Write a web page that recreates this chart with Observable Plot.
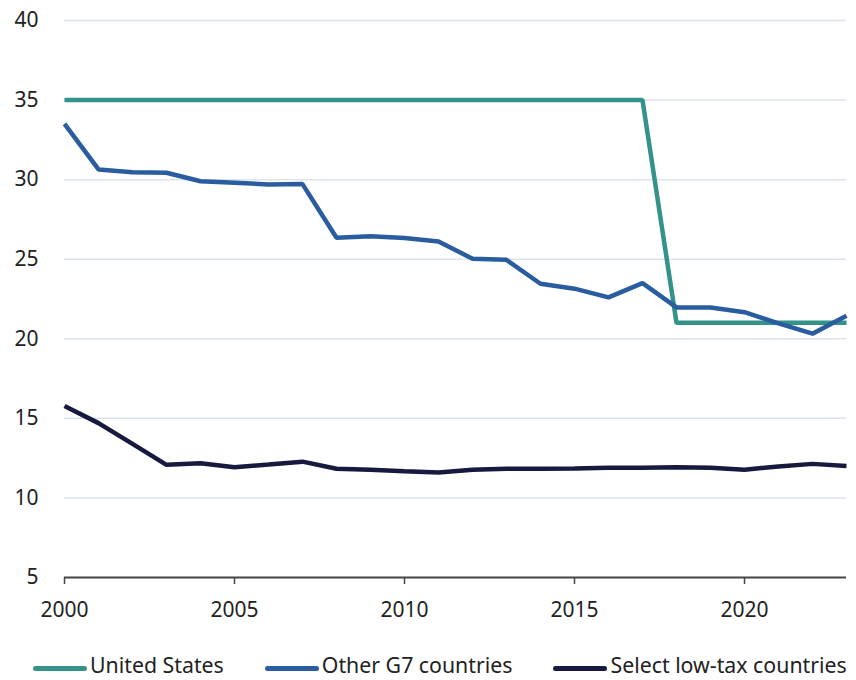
<!DOCTYPE html>
<html>
<head>
<meta charset="utf-8">
<script src="https://cdn.jsdelivr.net/npm/d3@7"></script>
<script src="https://cdn.jsdelivr.net/npm/@observablehq/plot@0.6"></script>
<style>
  body { margin: 0; background: #fff; font-family: "Noto Sans", sans-serif; color: #222; }
  #chart svg { display: block; }
  #legend { display: flex; gap: 41px; padding-left: 33px; margin-top: 10px; align-items: center; font-size: 21.3px; line-height: 29px; white-space: nowrap; width: 823px; }
  .item { display: flex; align-items: center; flex: none; }
  .swatch { width: 54px; height: 5px; border-radius: 3px; margin-right: 3px; flex: none; position: relative; top: 4px; }
</style>
</head>
<body>
<div id="chart"></div>
<div id="legend"></div>
<script>
// Statutory corporate tax rates, percent
const years = [2000, 2001, 2002, 2003, 2004, 2005, 2006, 2007, 2008, 2009, 2010, 2011,
               2012, 2013, 2014, 2015, 2016, 2017, 2018, 2019, 2020, 2021, 2022, 2023];
const unitedStates = [35, 35, 35, 35, 35, 35, 35, 35, 35, 35, 35, 35,
                      35, 35, 35, 35, 35, 35, 21, 21, 21, 21, 21, 21];
const otherG7 = [33.5, 30.64, 30.47, 30.43, 29.9, 29.8, 29.7, 29.72, 26.35, 26.44, 26.33, 26.12,
                 25.03, 24.96, 23.46, 23.15, 22.6, 23.5, 21.97, 21.97, 21.67, 20.97, 20.32, 21.45];
const lowTax = [15.77, 14.7, 13.4, 12.08, 12.18, 11.93, 12.1, 12.28, 11.83, 11.77, 11.68, 11.6,
                11.77, 11.83, 11.84, 11.85, 11.9, 11.9, 11.93, 11.9, 11.77, 11.98, 12.14, 12.0];

const seriesNames = ["United States", "Other G7 countries", "Select low-tax countries"];
const seriesColors = ["#33928a", "#2a5d9f", "#17193f"];
const seriesValues = [unitedStates, otherG7, lowTax];

const yTicks = [5, 10, 15, 20, 25, 30, 35, 40];
const xTicks = [2000, 2005, 2010, 2015, 2020];

const rows = seriesNames.flatMap((name, i) =>
  years.map((year, j) => ({series: name, year, rate: seriesValues[i][j]})));

const chart = Plot.plot({
  width: 856,
  height: 640,
  marginTop: 20,
  marginBottom: 63,
  marginLeft: 64,
  marginRight: 10,
  style: {fontFamily: "Noto Sans, sans-serif", fontSize: "21px", color: "#222", background: "#fff"},
  x: {domain: [2000, 2023], label: null},
  y: {domain: [5, 40], label: null},
  color: {domain: seriesNames, range: seriesColors},
  marks: [
    Plot.gridY(yTicks.filter(d => d > 5), {stroke: "#dde3ee", strokeOpacity: 1, strokeWidth: 1.5}),
    Plot.axisY({ticks: yTicks, tickSize: 0, tickPadding: 26, label: null}),
    Plot.axisX({ticks: xTicks, tickFormat: d => String(d), tickSize: 7, tickPadding: 18, label: null, stroke: "#444", strokeWidth: 1.5}),
    Plot.ruleY([5], {stroke: "#444", strokeWidth: 2}),
    Plot.line(rows, {x: "year", y: "rate", z: "series", stroke: "series",
                     strokeWidth: 4.5, strokeLinejoin: "miter", strokeLinecap: "butt"})
  ]
});
document.getElementById("chart").appendChild(chart);

const legend = document.getElementById("legend");
seriesNames.forEach((name, i) => {
  const item = document.createElement("div");
  item.className = "item";
  const sw = document.createElement("div");
  sw.className = "swatch";
  sw.style.background = seriesColors[i];
  const label = document.createElement("span");
  label.textContent = name;
  item.append(sw, label);
  legend.appendChild(item);
});
</script>
</body>
</html>
